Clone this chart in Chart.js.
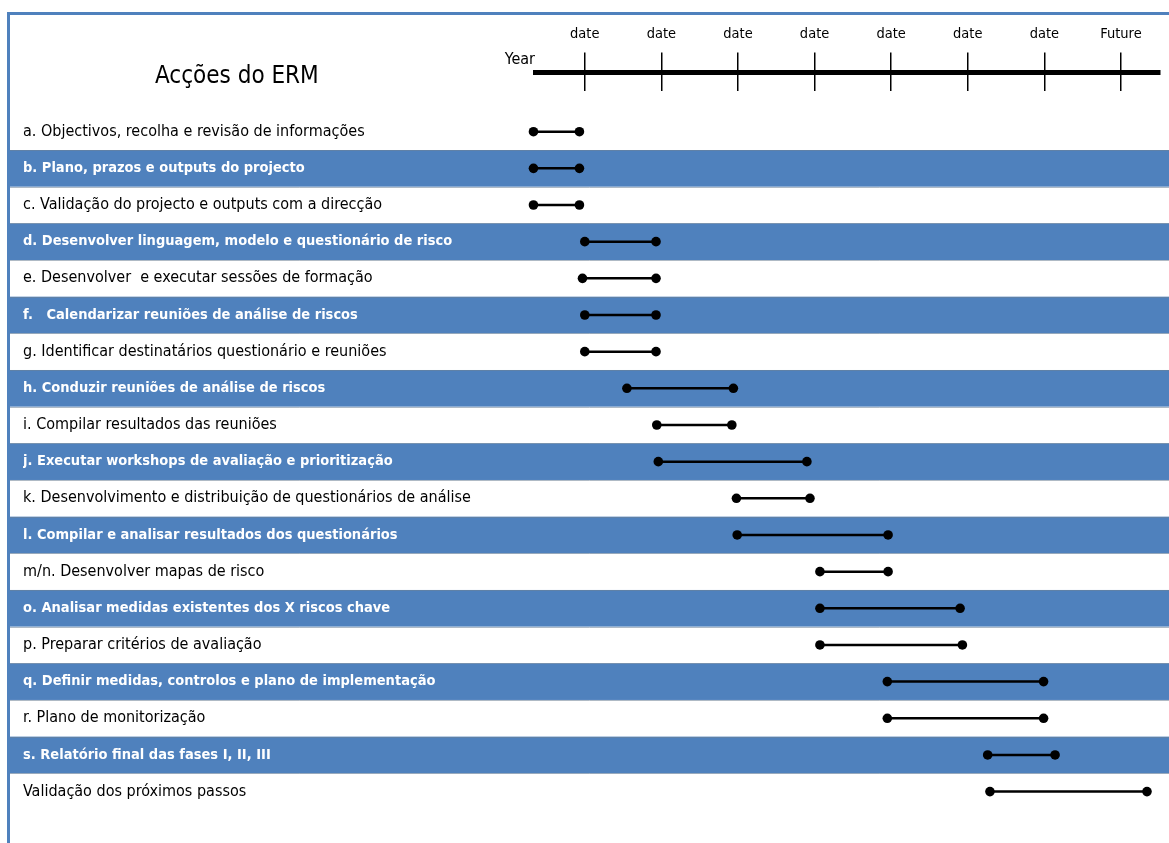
<!DOCTYPE html>
<html>
<head>
<meta charset="utf-8">
<title>Acções do ERM</title>
<script src="https://cdn.jsdelivr.net/npm/chart.js@4.4.1/dist/chart.umd.min.js"></script>
<style>
  html, body { margin: 0; padding: 0; background: #fff; width: 1169px; height: 843px; overflow: hidden; }
  #frame { position: absolute; left: 7px; top: 12px; width: 1220px; height: 900px; box-sizing: border-box;
           border: 3px solid #4f81bd; }
  #chart { position: absolute; left: 0; top: 0; }
  #heading { position: absolute; left: 155px; top: 61px; font-size: 24px; color: #000; white-space: nowrap; }
</style>
</head>
<body>
<div id="frame"></div>
<canvas id="chart" width="1169" height="843"></canvas>
<div id="heading">Acções do ERM</div>
<script>
// Activities of the ERM programme, top to bottom
const taskLabels = [
  'a. Objectivos, recolha e revisão de informações',
  'b. Plano, prazos e outputs do projecto',
  'c. Validação do projecto e outputs com a direcção',
  'd. Desenvolver linguagem, modelo e questionário de risco',
  'e. Desenvolver  e executar sessões de formação',
  'f.   Calendarizar reuniões de análise de riscos',
  'g. Identificar destinatários questionário e reuniões',
  'h. Conduzir reuniões de análise de riscos',
  'i. Compilar resultados das reuniões',
  'j. Executar workshops de avaliação e prioritização',
  'k. Desenvolvimento e distribuição de questionários de análise',
  'l. Compilar e analisar resultados dos questionários',
  'm/n. Desenvolver mapas de risco',
  'o. Analisar medidas existentes dos X riscos chave',
  'p. Preparar critérios de avaliação',
  'q. Definir medidas, controlos e plano de implementação',
  'r. Plano de monitorização',
  's. Relatório final das fases I, II, III',
  'Validação dos próximos passos'
];

// Start and end of each activity, in timeline periods (1 = first date mark)
const taskStart = [0.33, 0.33, 0.33, 1.00, 0.97, 1.00, 1.00, 1.55, 1.94, 1.96,
                   2.98, 2.99, 4.07, 4.07, 4.07, 4.95, 4.95, 6.26, 6.29];
const taskEnd   = [0.93, 0.93, 0.93, 1.93, 1.93, 1.93, 1.93, 2.94, 2.92, 3.90,
                   3.94, 4.96, 4.96, 5.90, 5.93, 6.99, 6.99, 7.14, 8.34];

// Timeline marks
const tickValues = [1, 2, 3, 4, 5, 6, 7, 8];
const tickLabels = ['date', 'date', 'date', 'date', 'date', 'date', 'date', 'Future'];
const timelineLead = 'Year';

// Pick the first installed narrow face
function firstInstalled(families) {
  const ctx = document.createElement('canvas').getContext('2d');
  const probe = 'abcdefghijklmnopqrstuvwxyz ABCDEFGHIJ çãõé 0123456789';
  for (const fam of families) {
    let differs = false;
    for (const base of ['monospace', 'serif']) {
      ctx.font = '40px ' + base;
      const w0 = ctx.measureText(probe).width;
      ctx.font = '40px "' + fam + '", ' + base;
      if (ctx.measureText(probe).width !== w0) differs = true;
    }
    if (differs) return fam;
  }
  return 'sans-serif';
}
const family = firstInstalled(['Liberation Sans Narrow', 'DejaVu Sans Condensed', 'Roboto Condensed', 'Open Sans', 'Noto Sans']);
document.getElementById('heading').style.fontFamily = '"' + family + '", sans-serif';

const BAND_BLUE = '#4f81bd';
const isBlueRow = i => i % 2 === 1;

const rowBands = {
  id: 'rowBands',
  beforeDraw(chart) {
    const { ctx, width, scales: { y } } = chart;
    const left = 10;
    ctx.save();
    for (let i = 0; i < taskLabels.length; i++) {
      const top = y.getPixelForValue(i - 0.5);
      const bottom = y.getPixelForValue(i + 0.5);
      if (isBlueRow(i)) {
        ctx.fillStyle = BAND_BLUE;
        ctx.fillRect(left, top, width - left, bottom - top);
      }
    }
    ctx.strokeStyle = 'rgba(110,130,150,0.55)';
    ctx.lineWidth = 1;
    for (let i = 1; i < taskLabels.length; i++) {
      const yy = Math.round(y.getPixelForValue(i - 0.5)) + 0.5;
      ctx.beginPath();
      ctx.moveTo(left, yy);
      ctx.lineTo(width, yy);
      ctx.stroke();
    }
    ctx.restore();
  },
  afterDraw(chart) {
    const { ctx, chartArea, scales: { x } } = chart;
    ctx.save();
    ctx.fillStyle = '#000';
    ctx.font = '16px "' + family + '", sans-serif';
    ctx.textAlign = 'right';
    ctx.textBaseline = 'bottom';
    ctx.fillText(timelineLead, chartArea.left, x.bottom - 5);
    ctx.restore();
  }
};

const datasets = taskLabels.map((label, i) => ({
  label,
  data: [{ x: taskStart[i], y: i }, { x: taskEnd[i], y: i }],
  borderColor: '#000',
  borderWidth: 2.5,
  pointRadius: 4.8,
  pointHoverRadius: 4.8,
  pointBackgroundColor: '#000',
  pointBorderWidth: 0,
  clip: false
}));

new Chart(document.getElementById('chart'), {
  type: 'line',
  data: { datasets },
  plugins: [rowBands],
  options: {
    responsive: false,
    animation: false,
    devicePixelRatio: 1,
    layout: { padding: { left: 23, top: 17, right: 9, bottom: 0 } },
    plugins: { legend: { display: false }, tooltip: { enabled: false } },
    scales: {
      x: {
        type: 'linear',
        position: 'top',
        min: 0.35,
        max: 8.51,
        afterBuildTicks: scale => { scale.ticks = tickValues.map(v => ({ value: v })); },
        ticks: {
          autoSkip: false,
          maxRotation: 0,
          padding: 9,
          color: '#000',
          font: { family, size: 14.5 },
          callback: (value, index) => tickLabels[index]
        },
        grid: { color: '#000', lineWidth: 1.5, tickLength: 20, drawOnChartArea: true },
        border: { display: true, color: '#000', width: 5, dash: [16, 4000] }
      },
      y: {
        type: 'linear',
        reverse: true,
        min: -1.617,
        max: 19.14,
        afterBuildTicks: scale => { scale.ticks = taskLabels.map((_, i) => ({ value: i })); },
        afterFit: scale => { scale.width = 512; },
        ticks: {
          autoSkip: false,
          crossAlign: 'far',
          padding: 0,
          color: c => (isBlueRow(c.index) ? '#fff' : '#000'),
          font: c => (isBlueRow(c.index)
            ? { family, size: 14.5, weight: 'bold' }
            : { family, size: 16, weight: 'normal' }),
          callback: value => taskLabels[value]
        },
        grid: { display: false },
        border: { display: false }
      }
    }
  }
});
</script>
</body>
</html>
